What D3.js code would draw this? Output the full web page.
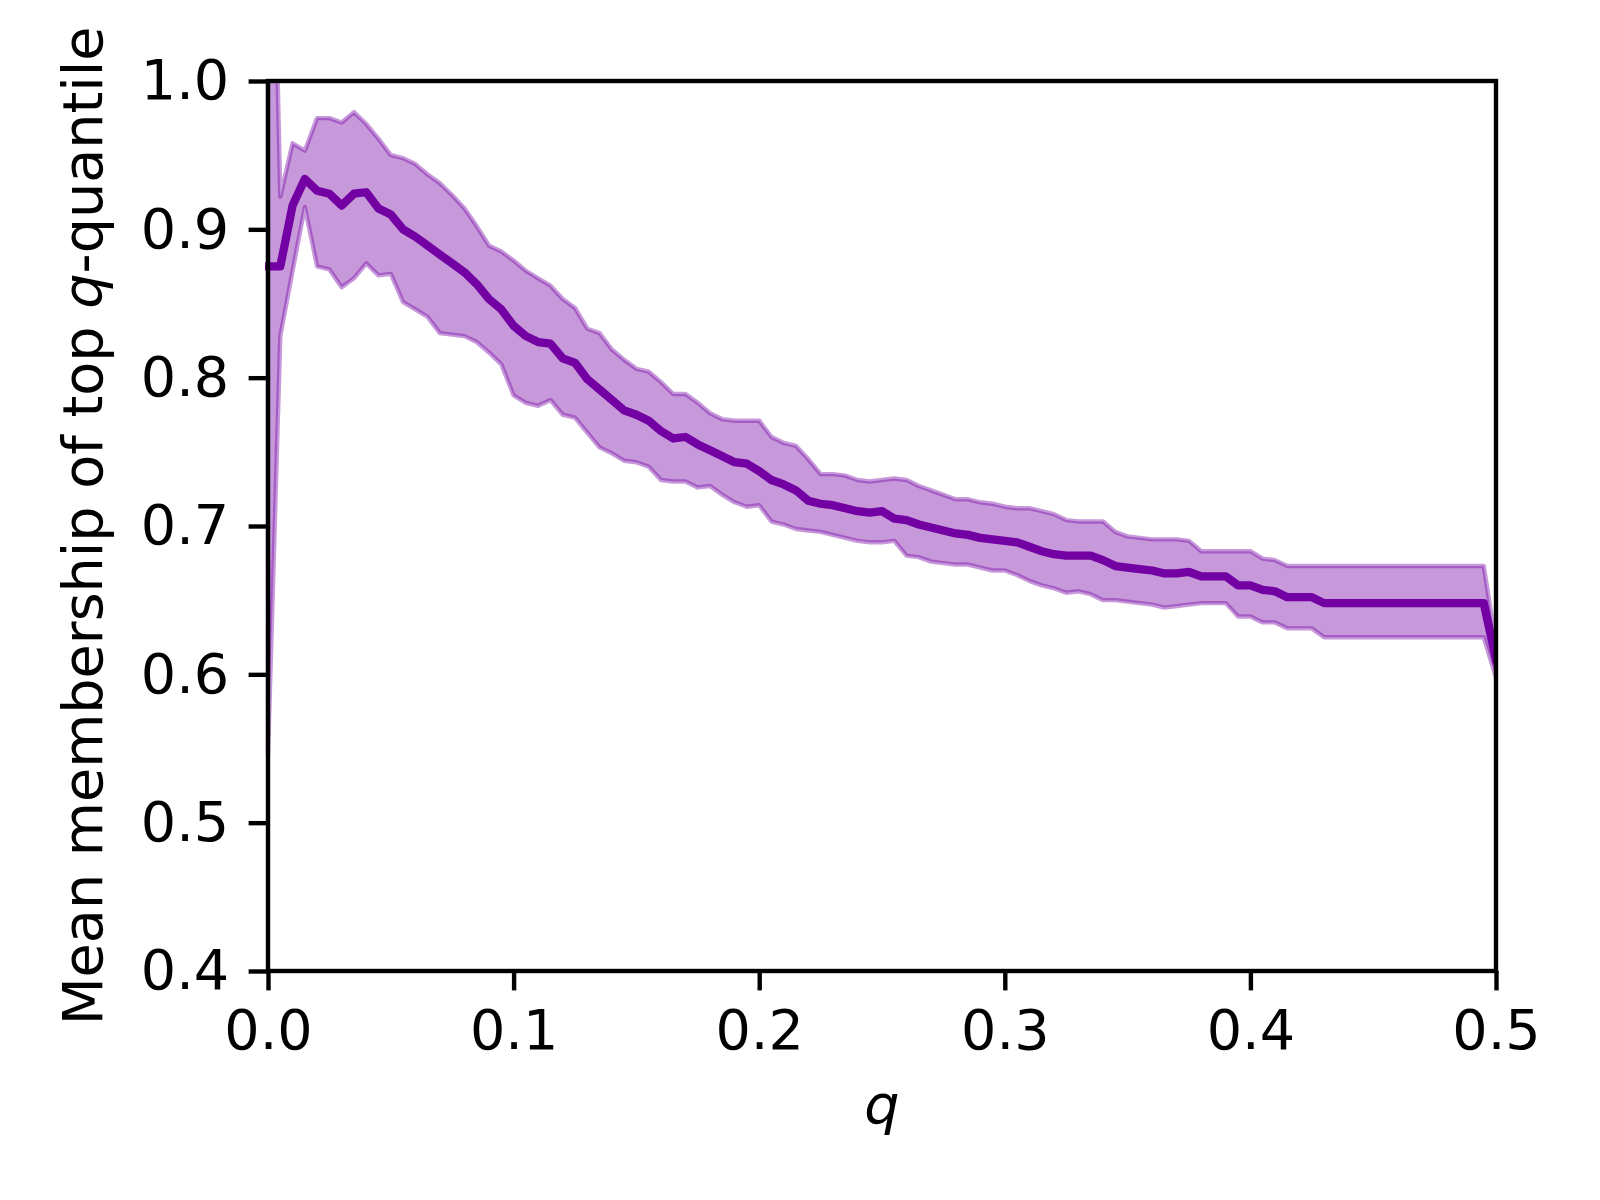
<!DOCTYPE html>
<html>
<head>
<meta charset="utf-8">
<script src="https://cdn.jsdelivr.net/npm/d3@7"></script>
<style>
  body { margin: 0; background: #fff; }
  text { font-family: "DejaVu Sans", sans-serif; }
</style>
</head>
<body>
<svg id="chart" width="1600" height="1200"></svg>
<script>
// q values (x)
const qVals = [
  0.000, 0.005, 0.010, 0.015, 0.020, 0.025, 0.030, 0.035, 0.040, 0.045,
  0.050, 0.055, 0.060, 0.065, 0.070, 0.075, 0.080, 0.085, 0.090, 0.095,
  0.100, 0.105, 0.110, 0.115, 0.120, 0.125, 0.130, 0.135, 0.140, 0.145,
  0.150, 0.155, 0.160, 0.165, 0.170, 0.175, 0.180, 0.185, 0.190, 0.195,
  0.200, 0.205, 0.210, 0.215, 0.220, 0.225, 0.230, 0.235, 0.240, 0.245,
  0.250, 0.255, 0.260, 0.265, 0.270, 0.275, 0.280, 0.285, 0.290, 0.295,
  0.300, 0.305, 0.310, 0.315, 0.320, 0.325, 0.330, 0.335, 0.340, 0.345,
  0.350, 0.355, 0.360, 0.365, 0.370, 0.375, 0.380, 0.385, 0.390, 0.395,
  0.400, 0.405, 0.410, 0.415, 0.420, 0.425, 0.430, 0.435, 0.440, 0.445,
  0.450, 0.455, 0.460, 0.465, 0.470, 0.475, 0.480, 0.485, 0.490, 0.495,
  0.500
];

// mean membership
const meanVals = [
  0.875, 0.875, 0.916, 0.934, 0.926, 0.924, 0.916, 0.924, 0.925, 0.914,
  0.910, 0.900, 0.895, 0.889, 0.883, 0.877, 0.871, 0.863, 0.853, 0.846,
  0.835, 0.828, 0.824, 0.823, 0.813, 0.810, 0.799, 0.792, 0.785, 0.778,
  0.775, 0.771, 0.764, 0.759, 0.760, 0.755, 0.751, 0.747, 0.743, 0.742,
  0.737, 0.731, 0.728, 0.724, 0.717, 0.715, 0.714, 0.712, 0.710, 0.709,
  0.710, 0.705, 0.704, 0.701, 0.699, 0.697, 0.695, 0.694, 0.692, 0.691,
  0.690, 0.689, 0.686, 0.683, 0.681, 0.680, 0.680, 0.680, 0.677, 0.673,
  0.672, 0.671, 0.670, 0.668, 0.668, 0.669, 0.666, 0.666, 0.666, 0.660,
  0.660, 0.657, 0.656, 0.652, 0.652, 0.652, 0.648, 0.648, 0.648, 0.648,
  0.648, 0.648, 0.648, 0.648, 0.648, 0.648, 0.648, 0.648, 0.648, 0.648,
  0.610
];

// upper edge of band
const upperVals = [
  1.300, 0.922, 0.958, 0.953, 0.975, 0.975, 0.972, 0.979, 0.971, 0.961,
  0.950, 0.948, 0.944, 0.937, 0.931, 0.923, 0.914, 0.902, 0.889, 0.885,
  0.879, 0.872, 0.867, 0.862, 0.853, 0.847, 0.833, 0.830, 0.819, 0.812,
  0.806, 0.804, 0.797, 0.789, 0.789, 0.783, 0.776, 0.772, 0.771, 0.771,
  0.771, 0.760, 0.756, 0.754, 0.745, 0.735, 0.735, 0.734, 0.731, 0.730,
  0.731, 0.732, 0.731, 0.727, 0.724, 0.721, 0.718, 0.718, 0.716, 0.715,
  0.713, 0.712, 0.712, 0.710, 0.708, 0.704, 0.703, 0.703, 0.703, 0.696,
  0.693, 0.692, 0.691, 0.691, 0.691, 0.690, 0.683, 0.683, 0.683, 0.683,
  0.683, 0.678, 0.677, 0.673, 0.673, 0.673, 0.673, 0.673, 0.673, 0.673,
  0.673, 0.673, 0.673, 0.673, 0.673, 0.673, 0.673, 0.673, 0.673, 0.673,
  0.620
];

// lower edge of band
const lowerVals = [
  0.545, 0.828, 0.872, 0.915, 0.875, 0.873, 0.861, 0.867, 0.877, 0.869,
  0.870, 0.851, 0.846, 0.841, 0.830, 0.829, 0.828, 0.824, 0.817, 0.809,
  0.788, 0.783, 0.781, 0.785, 0.775, 0.773, 0.763, 0.753, 0.749, 0.744,
  0.743, 0.740, 0.731, 0.730, 0.730, 0.726, 0.727, 0.721, 0.716, 0.713,
  0.714, 0.703, 0.701, 0.698, 0.697, 0.696, 0.694, 0.692, 0.690, 0.689,
  0.689, 0.690, 0.680, 0.679, 0.676, 0.675, 0.674, 0.674, 0.672, 0.670,
  0.670, 0.667, 0.663, 0.660, 0.658, 0.655, 0.656, 0.654, 0.650, 0.650,
  0.649, 0.648, 0.647, 0.645, 0.646, 0.647, 0.648, 0.648, 0.648, 0.639,
  0.639, 0.635, 0.635, 0.631, 0.631, 0.631, 0.625, 0.625, 0.625, 0.625,
  0.625, 0.625, 0.625, 0.625, 0.625, 0.625, 0.625, 0.625, 0.625, 0.625,
  0.598
];

const xTicks = [0.0, 0.1, 0.2, 0.3, 0.4, 0.5];
const yTicks = [0.4, 0.5, 0.6, 0.7, 0.8, 0.9, 1.0];

const data = qVals.map((q, i) => ({q: q, m: meanVals[i], hi: upperVals[i], lo: lowerVals[i]}));

const svg = d3.select("#chart"),
      margin = {top: 81, left: 268, right: 104, bottom: 229},
      width = 1600 - margin.left - margin.right,
      height = 1200 - margin.top - margin.bottom;

const color = "#7200a2";
const tickLen = 19.4, fontPx = 55.6;

const g = svg.append("g")
  .attr("transform", `translate(${margin.left},${margin.top})`);

const x = d3.scaleLinear().domain([0, 0.5]).range([0, width]);
const y = d3.scaleLinear().domain([0.4, 1.0]).range([height, 0]);

// clip a bit wider on the left so the band edge stroke at q=0 shows
g.append("clipPath").attr("id", "clip")
  .append("rect").attr("x", -3).attr("width", width + 3).attr("height", height);

const plot = g.append("g").attr("clip-path", "url(#clip)");

// band
const area = d3.area()
  .x(d => x(d.q))
  .y0(d => y(d.lo))
  .y1(d => y(d.hi));

plot.append("path")
  .datum(data)
  .attr("d", area)
  .attr("fill", color)
  .attr("fill-opacity", 0.4)
  .attr("stroke", color)
  .attr("stroke-opacity", 0.4)
  .attr("stroke-width", 4.4)
  .attr("stroke-linejoin", "round");

// mean line
const line = d3.line().x(d => x(d.q)).y(d => y(d.m));
plot.append("path")
  .datum(data)
  .attr("d", line)
  .attr("fill", "none")
  .attr("stroke", color)
  .attr("stroke-width", 8.3)
  .attr("stroke-linejoin", "round")
  .attr("stroke-linecap", "square");

// axes
const xAxis = g.append("g")
  .attr("transform", `translate(0,${height})`)
  .call(d3.axisBottom(x).tickValues(xTicks).tickFormat(d3.format(".1f"))
    .tickSize(tickLen).tickSizeOuter(0).tickPadding(tickLen));
const yAxis = g.append("g")
  .call(d3.axisLeft(y).tickValues(yTicks).tickFormat(d3.format(".1f"))
    .tickSize(tickLen).tickSizeOuter(0).tickPadding(tickLen));

[xAxis, yAxis].forEach(a => {
  a.select(".domain").remove();
  a.selectAll(".tick line").attr("stroke", "#000").attr("stroke-width", 4.4);
  a.selectAll(".tick text")
    .attr("fill", "#000")
    .style("font-size", fontPx + "px")
    .style("font-family", "'DejaVu Sans', sans-serif");
});

// frame
g.append("rect")
  .attr("width", width)
  .attr("height", height)
  .attr("fill", "none")
  .attr("stroke", "#000")
  .attr("stroke-width", 4.4);

// x label
svg.append("text")
  .attr("x", margin.left + width / 2)
  .attr("y", 1124)
  .attr("text-anchor", "middle")
  .style("font-size", fontPx + "px")
  .style("font-style", "italic")
  .text("q");

// y label
const yl = svg.append("text")
  .attr("transform", `translate(102,${margin.top + height / 2}) rotate(-90)`)
  .attr("text-anchor", "middle")
  .style("font-size", fontPx + "px");
yl.append("tspan").text("Mean membership of top ");
yl.append("tspan").style("font-style", "italic").text("q");
yl.append("tspan").text("-quantile");
</script>
</body>
</html>
